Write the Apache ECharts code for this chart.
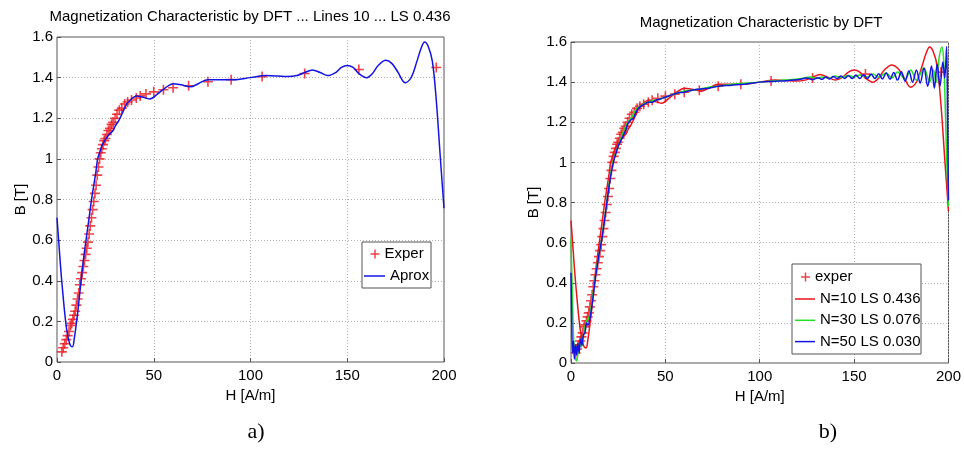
<!DOCTYPE html>
<html>
<head>
<meta charset="utf-8">
<script src="https://cdn.jsdelivr.net/npm/echarts@6/dist/echarts.min.js"></script>
<style>html,body{margin:0;padding:0;background:#fff}#c{width:964px;height:452px}</style>
</head>
<body>
<div id="c"></div>
<script>
// ---------- data ----------
const xTicks = [0, 50, 100, 150, 200];
const yTicks = [0, 0.2, 0.4, 0.6, 0.8, 1, 1.2, 1.4, 1.6];

const titleA = 'Magnetization Characteristic by DFT ... Lines 10 ... LS 0.436';
const titleB = 'Magnetization Characteristic by DFT';
const xName = 'H [A/m]';
const yName = 'B [T]';

// experimental points
const expH = [2.5,3.2,4.0,4.8,5.5,6.2,7.0,7.6,8.2,8.8,9.4,10.0,10.6,11.2,11.8,12.4,13.0,13.6,14.2,14.8,15.4,16.0,16.6,17.2,17.8,18.4,19.0,19.6,20.2,20.8,21.4,22.0,22.6,23.2,23.8,24.4,25.0,25.8,26.6,27.4,28.2,29.0,30.0,31.0,32.2,33.5,35.0,36.5,38.5,41.0,43.0,46.0,50.0,55.0,60.0,68.0,78.0,90.0,106.0,128.0,156.0,196.0];
const expB = [0.05,0.07,0.09,0.11,0.13,0.15,0.18,0.19,0.21,0.23,0.25,0.28,0.31,0.34,0.38,0.41,0.44,0.47,0.50,0.53,0.56,0.59,0.63,0.67,0.71,0.75,0.79,0.83,0.87,0.92,0.96,1.00,1.03,1.05,1.07,1.09,1.10,1.12,1.14,1.15,1.17,1.18,1.20,1.22,1.24,1.25,1.27,1.28,1.29,1.30,1.31,1.32,1.33,1.34,1.35,1.36,1.38,1.39,1.405,1.42,1.44,1.45];

// DFT approximation, 10 lines (LS 0.436)
const n10H = [0,1,2,3,4,5,6,7,8,9,10,11,12,13,14,15,16,17,18,19,20,21,22,23,24,25.3,27,29,30,32,34,36,38,41,44,48,52,56,60,64,69,73,78,84,91,100,108,114,119,124,128,132,136,140,144,147,150,153,156,160,163,166,170,173,176,180,183,186,188,190,192,194,196,198,200];
const n10B = [0.71,0.58,0.45,0.34,0.24,0.16,0.11,0.08,0.075,0.12,0.19,0.27,0.36,0.45,0.53,0.60,0.67,0.74,0.81,0.87,0.93,1.00,1.03,1.06,1.08,1.10,1.12,1.14,1.16,1.19,1.23,1.27,1.29,1.31,1.305,1.295,1.32,1.35,1.37,1.365,1.355,1.37,1.39,1.39,1.39,1.40,1.41,1.408,1.405,1.41,1.425,1.438,1.425,1.41,1.425,1.45,1.46,1.45,1.42,1.40,1.42,1.46,1.485,1.47,1.43,1.375,1.40,1.48,1.54,1.575,1.55,1.48,1.29,1.02,0.757];

// 30 lines (LS 0.076)
const n30H = [0,0.7,1.4,2.2,3.0,3.8,4.6,5.4,6.3,7.2,8.2,9.2,10.2,11.2,12.2,13.2,14.2,15.2,16.2,17.2,18.2,19.2,20.2,21.2,22.2,23.5,25,26.5,28,29.5,31,33,35,37,39,41,44,47,50,53,56,60,64,68,73,78,85,92,100,110,120,127,130,133,137,140,143,147,150,153,157,160,163,167,170,173,177,180,183,187,190,192,193.5,195,196.5,197.5,198.5,199.3,200];
const n30B = [0.62,0.35,0.12,0.03,0.01,0.06,0.10,0.08,0.12,0.17,0.21,0.22,0.25,0.31,0.38,0.45,0.51,0.56,0.61,0.68,0.75,0.82,0.89,0.95,1.00,1.04,1.08,1.12,1.16,1.19,1.21,1.24,1.27,1.28,1.295,1.30,1.31,1.315,1.325,1.335,1.345,1.355,1.36,1.365,1.375,1.38,1.39,1.395,1.40,1.408,1.415,1.425,1.418,1.425,1.42,1.43,1.423,1.433,1.425,1.435,1.425,1.44,1.425,1.445,1.42,1.45,1.415,1.46,1.41,1.47,1.40,1.46,1.40,1.52,1.575,1.50,1.20,0.95,0.78];

// 50 lines (LS 0.030)
const n50H = [0,0.4,0.8,1.3,1.8,2.4,3.0,3.6,4.3,5.0,5.8,6.6,7.4,8.2,9.0,10,11,12,13,14,15,16,17,18,19,20,21,22,23,24,25,26.5,28,29,30,31.5,33,35,37,39,41,43,45,47,50,53,56,60,64,68,73,78,85,92,100,110,120,125,128,131,133,135,137,139,141,143,145,147,149,151,153,155,157,159,161,163,165,167,169,171,173,175,177,179,181,183,185,187,189,191,192.5,194,195.5,197,198,199,199.5,200];
const n50B = [0.45,0.20,0.05,0.11,0.02,0.09,0.04,0.10,0.05,0.12,0.09,0.14,0.15,0.20,0.19,0.22,0.28,0.35,0.43,0.49,0.55,0.60,0.66,0.73,0.80,0.87,0.93,0.98,1.02,1.05,1.08,1.11,1.14,1.16,1.19,1.21,1.22,1.26,1.28,1.29,1.30,1.30,1.31,1.315,1.325,1.335,1.345,1.35,1.36,1.365,1.37,1.38,1.385,1.39,1.40,1.405,1.412,1.42,1.412,1.422,1.414,1.426,1.416,1.428,1.418,1.43,1.418,1.432,1.418,1.435,1.418,1.437,1.418,1.44,1.418,1.442,1.416,1.445,1.414,1.448,1.41,1.452,1.405,1.455,1.40,1.46,1.395,1.47,1.38,1.48,1.37,1.49,1.38,1.50,1.42,1.577,1.2,0.81];

const seriesNamesA = ['Exper', 'Aprox'];
const seriesNamesB = ['exper', 'N=10 LS 0.436', 'N=30 LS 0.076', 'N=50 LS 0.030'];

// ---------- chart ----------
const FONT = "'Liberation Sans', Arial, Helvetica, sans-serif";
const RED = '#e8141c', BLUE = '#1414e0', GREEN = '#22e022';
const PLUS = 'path://M0,4.2H10V5.8H0Z M4.2,0H5.8V10H4.2Z';
const pairs = (xs, ys) => xs.map((x, i) => [x, ys[i]]);

function xAxisCfg(gi) {
  return {
    gridIndex: gi, type: 'value',
    min: xTicks[0], max: xTicks[xTicks.length - 1], interval: xTicks[1] - xTicks[0],
    name: xName, nameLocation: 'middle', nameGap: 22,
    nameTextStyle: { fontSize: 15, color: '#000', fontFamily: FONT },
    axisLabel: { fontSize: 15, color: '#000', fontFamily: FONT, margin: 6 },
    axisLine: { show: false },
    axisTick: { show: true, inside: true, length: 4, lineStyle: { color: '#555' } },
    splitLine: { show: true, lineStyle: { color: '#b0b0b0', width: 1, type: [1, 2] } }
  };
}
function yAxisCfg(gi, gap) {
  return {
    gridIndex: gi, type: 'value',
    min: yTicks[0], max: yTicks[yTicks.length - 1], interval: 0.2,
    name: yName, nameLocation: 'middle', nameGap: gap,
    nameTextStyle: { fontSize: 15, color: '#000', fontFamily: FONT },
    axisLabel: { fontSize: 15, color: '#000', fontFamily: FONT, margin: 4 },
    axisLine: { show: false },
    axisTick: { show: true, inside: true, length: 4, lineStyle: { color: '#555' } },
    splitLine: { show: true, lineStyle: { color: '#b0b0b0', width: 1, type: [1, 2] } }
  };
}
const legText = { fontSize: 15, lineHeight: 16, color: '#000', fontFamily: FONT };
function lineSeries(name, gi, h, b, color) {
  return {
    type: 'line', name: name, xAxisIndex: gi, yAxisIndex: gi,
    data: pairs(h, b), symbol: 'none', showSymbol: false, smooth: 0.35,
    lineStyle: { color: color, width: 1.5 }, itemStyle: { color: color },
    emphasis: { disabled: true }, silent: true
  };
}
function expSeries(name, gi) {
  return {
    type: 'scatter', name: name, xAxisIndex: gi, yAxisIndex: gi,
    data: pairs(expH, expB), symbol: PLUS, symbolSize: 10,
    itemStyle: { color: RED }, emphasis: { disabled: true }, silent: true
  };
}
const lineIcon = n => ({ name: n, icon: 'rect' });

const chart = echarts.init(document.getElementById('c'), null, { renderer: 'canvas' });
chart.setOption({
  backgroundColor: '#fff',
  animation: false,
  title: [
    { text: titleA, left: 250, top: 9, padding: 0, textAlign: 'center',
      textStyle: { fontSize: 15, fontWeight: 'normal', color: '#000', fontFamily: FONT } },
    { text: titleB, left: 761, top: 15, padding: 0, textAlign: 'center',
      textStyle: { fontSize: 15, fontWeight: 'normal', color: '#000', fontFamily: FONT } }
  ],
  grid: [
    { left: 57, top: 37, width: 387, height: 325, show: true, borderColor: '#555', borderWidth: 1, backgroundColor: '#fff' },
    { left: 571, top: 42, width: 381, height: 321, show: true, borderColor: '#555', borderWidth: 1, backgroundColor: '#fff' }
  ],
  xAxis: [xAxisCfg(0), xAxisCfg(1)],
  yAxis: [yAxisCfg(0, 29), yAxisCfg(1, 30)],
  legend: [
    { data: [{ name: seriesNamesA[0], icon: PLUS }], left: 370.5, top: 246, itemWidth: 9, itemHeight: 9,
      padding: 0, selectedMode: false, textStyle: legText, z: 20 },
    { data: [lineIcon(seriesNamesA[1])], left: 364, top: 268, itemWidth: 21, itemHeight: 1.5,
      padding: 0, selectedMode: false, textStyle: legText, z: 20 },
    { data: [{ name: seriesNamesB[0], icon: PLUS }], left: 801, top: 269, itemWidth: 9, itemHeight: 9,
      padding: 0, selectedMode: false, textStyle: legText, z: 20 },
    { data: seriesNamesB.slice(1).map(lineIcon), orient: 'vertical', left: 795, top: 291, itemGap: 5.3,
      itemWidth: 20, itemHeight: 1.5, padding: 0, selectedMode: false, textStyle: legText, z: 20 }
  ],
  graphic: [
    { type: 'rect', z: 10, shape: { x: 362, y: 242, width: 69, height: 46 },
      style: { fill: '#fff', stroke: '#555', lineWidth: 1 } },
    { type: 'rect', z: 10, shape: { x: 792, y: 264, width: 129, height: 90 },
      style: { fill: '#fff', stroke: '#555', lineWidth: 1 } },
    { type: 'text', z: 10, x: 256, y: 432,
      style: { text: 'a)', fontSize: 22, fontFamily: "'Liberation Serif', 'Times New Roman', serif", fill: '#000', align: 'center', verticalAlign: 'middle' } },
    { type: 'text', z: 10, x: 828, y: 432,
      style: { text: 'b)', fontSize: 22, fontFamily: "'Liberation Serif', 'Times New Roman', serif", fill: '#000', align: 'center', verticalAlign: 'middle' } }
  ],
  series: [
    expSeries(seriesNamesA[0], 0),
    lineSeries(seriesNamesA[1], 0, n10H, n10B, BLUE),
    expSeries(seriesNamesB[0], 1),
    lineSeries(seriesNamesB[1], 1, n10H, n10B, RED),
    lineSeries(seriesNamesB[2], 1, n30H, n30B, GREEN),
    lineSeries(seriesNamesB[3], 1, n50H, n50B, BLUE)
  ]
});
</script>
</body>
</html>
